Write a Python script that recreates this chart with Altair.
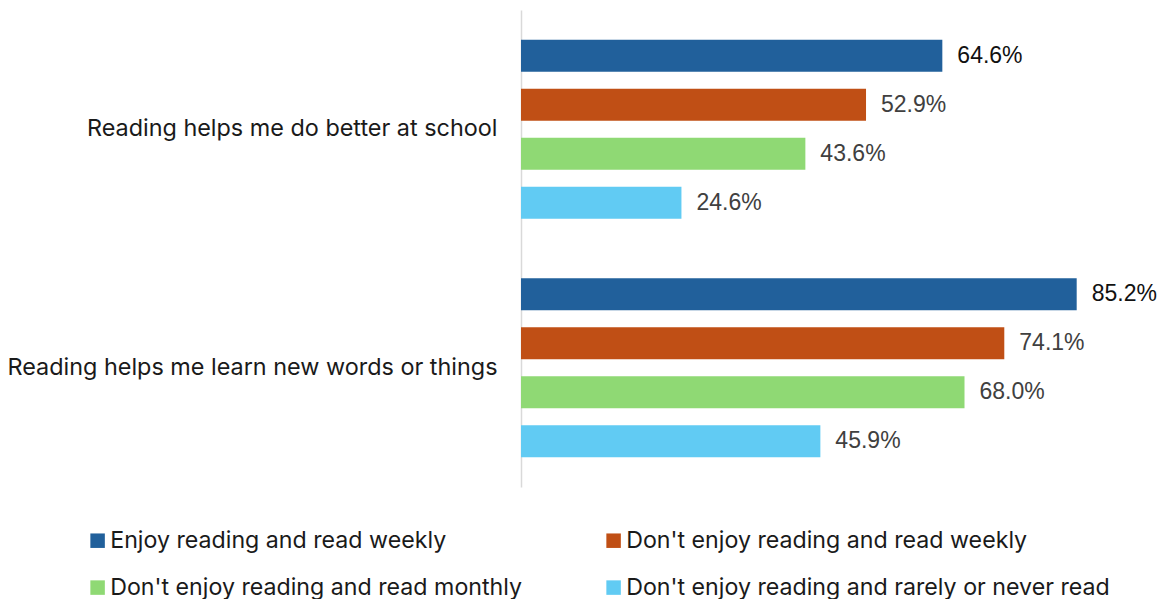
import altair as alt
import pandas as pd

categories = ["Reading helps me do better at school", "Reading helps me learn new words or things"]
series = [
    "Enjoy reading and read weekly",
    "Don't enjoy reading and read weekly",
    "Don't enjoy reading and read monthly",
    "Don't enjoy reading and rarely or never read",
]
colors = ["#21609B", "#C04F15", "#8FD974", "#61CBF3"]
values_school = [64.6, 52.9, 43.6, 24.6]
values_learn = [85.2, 74.1, 68.0, 45.9]

rows = []
for cat, vals in zip(categories, [values_school, values_learn]):
    for s, v in zip(series, vals):
        rows.append({"category": cat, "series": s, "value": v, "label": f"{v:.1f}%"})
df = pd.DataFrame(rows)

FONT = "Inter"
FS = 23.4
LFS = 23.2

y_enc = alt.Y(
    "category:N",
    sort=categories,
    scale=alt.Scale(paddingInner=0.178, paddingOuter=0.089),
    axis=alt.Axis(
        title=None,
        ticks=False,
        domain=True,
        domainColor="#D9D9D9",
        domainWidth=1.5,
        labelFont=FONT,
        labelFontSize=FS,
        labelColor="#1a1a1a",
        labelPadding=24,
        labelLimit=700,
        grid=False,
    ),
)
yoff = alt.YOffset("series:N", sort=series, scale=alt.Scale(paddingInner=0.35, paddingOuter=0.175))
x_enc = alt.X("value:Q", scale=alt.Scale(domain=[0, 90]), axis=None)

base = alt.Chart(df)

bars = base.mark_bar().encode(
    y=y_enc,
    yOffset=yoff,
    x=x_enc,
    color=alt.Color(
        "series:N",
        sort=series,
        scale=alt.Scale(domain=series, range=colors),
        legend=alt.Legend(
            title=None,
            orient="none",
            direction="horizontal",
            legendX=-435,
            legendY=519,
            columns=2,
            symbolType="square",
            symbolSize=210,
            symbolStrokeWidth=0,
            labelFont=FONT,
            labelFontSize=LFS,
            labelColor="#1a1a1a",
            labelOffset=1,
            columnPadding=79,
            rowPadding=23,
            labelLimit=700,
            padding=0,
        ),
    ),
)

text = base.mark_text(align="left", baseline="middle", dx=15, font="Liberation Sans", fontSize=23).encode(
    y=alt.Y("category:N", sort=categories),
    yOffset=alt.YOffset("series:N", sort=series),
    x=alt.X("value:Q"),
    text="label:N",
    color=alt.condition(
        alt.datum.series == series[0], alt.value("#111111"), alt.value("#404040")
    ),
)

chart = (
    alt.layer(bars, text)
    .properties(
        width=587,
        height=477,
        autosize=alt.AutoSizeParams(type="none"),
        padding={"left": 513, "top": 2, "right": 49, "bottom": 113},
    )
    .configure_view(stroke=None)
)

chart.save("out.html", embed_options={"renderer": "svg", "actions": False})
